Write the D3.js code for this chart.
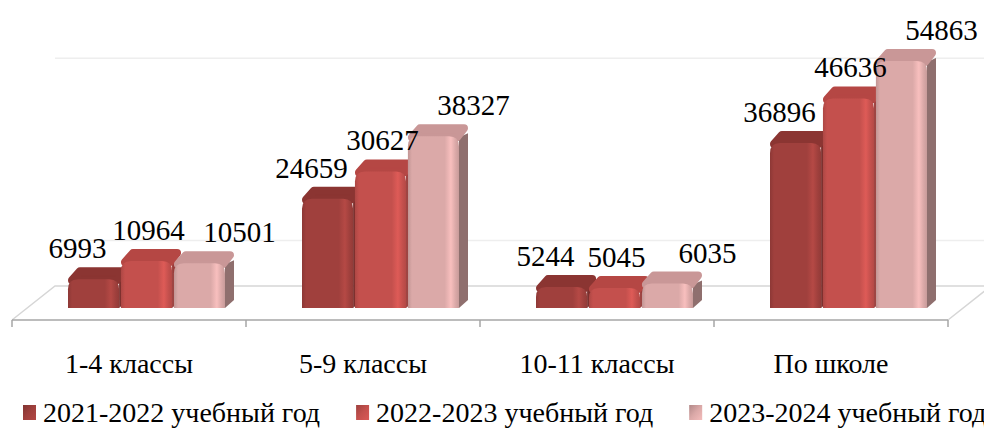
<!DOCTYPE html>
<html>
<head>
<meta charset="UTF-8">
<script src="https://d3js.org/d3.v7.min.js"></script>
<style>
    svg text {
        font-family: "Times New Roman", Tinos, "Liberation Serif", "DejaVu Serif", serif;
    }
</style>
</head>
<body style="margin:0">
<script>

    // data
    var categories = ["1-4 классы", "5-9 классы", "10-11 классы", "По школе"];
    var seriesNames = ["2021-2022 учебный год", "2022-2023 учебный год", "2023-2024 учебный год"];
    var values2122 = [6993, 24659, 5244, 36896];
    var values2223 = [10964, 30627, 5045, 46636];
    var values2324 = [10501, 38327, 6035, 54863];
    var gridValues = [10000, 50000];

    var seriesValues = [values2122, values2223, values2324];

    // colours: front, side, top
    var frontColors = ["#a0403d", "#c4504d", "#dba9a8"];
    var sideColors = ["#7b2f2d", "#9a3c3a", "#8f6f6e"];
    var topColors = ["#8b3532", "#b54744", "#c99797"];

    var fontList = "'Times New Roman', Tinos, 'Liberation Serif', 'DejaVu Serif', serif";

    var w = 984;
    var h = 428;

    // floor / perspective
    var floorFront = 320, floorBack = 286;
    var floorLeft = 12, floorRight = 948, floorShift = 43;
    var baseY = 308;
    var depthX = 9, depthY = 8;

    var svg = d3.select("body")
        .append("svg")
        .attr("width", w)
        .attr("height", h);

    var defs = svg.append("defs");

    frontColors.forEach(function (c, i) {
        var base = d3.color(c);
        var g = defs.append("linearGradient")
            .attr("id", "front" + i)
            .attr("x1", "0").attr("x2", "1").attr("y1", "0").attr("y2", "0");
        [[0, base.darker(0.35)], [0.08, base], [0.72, base],
         [0.84, base.brighter(0.35)], [0.93, base], [1, base.darker(0.25)]]
            .forEach(function (s) {
                g.append("stop").attr("offset", s[0]).attr("stop-color", s[1].formatHex());
            });
    });

    var x = d3.scaleBand()
        .domain(categories)
        .range([floorLeft, floorRight]);

    var xInner = d3.scaleBand()
        .domain(d3.range(seriesNames.length))
        .range([0, 157])
        .paddingInner(0.035);

    var y = d3.scaleLinear()
        .domain([0, 60000])
        .range([baseY, baseY - 273.4]);

    // back wall gridlines
    svg.selectAll(".grid")
        .data(gridValues)
        .enter()
        .append("line")
        .attr("class", "grid")
        .attr("x1", floorLeft + floorShift)
        .attr("x2", w)
        .attr("y1", function (d) { return y(d) - (baseY - floorBack); })
        .attr("y2", function (d) { return y(d) - (baseY - floorBack); })
        .attr("stroke", "#eeeeee")
        .attr("stroke-width", 1.5);

    // floor
    svg.append("path")
        .attr("d", "M" + floorLeft + "," + floorFront +
            " L" + (floorLeft + floorShift) + "," + floorBack +
            " L" + (floorRight + floorShift) + "," + floorBack +
            " L" + floorRight + "," + floorFront)
        .attr("fill", "none")
        .attr("stroke", "#d6d6d6")
        .attr("stroke-width", 1.5);

    svg.append("line")
        .attr("x1", floorLeft).attr("x2", floorRight)
        .attr("y1", floorFront).attr("y2", floorFront)
        .attr("stroke", "#a6a6a6")
        .attr("stroke-width", 1.5);

    var tickXs = categories.map(function (c) { return x(c); }).concat([floorRight]);
    svg.selectAll(".tick-mark")
        .data(tickXs)
        .enter()
        .append("line")
        .attr("class", "tick-mark")
        .attr("x1", function (d) { return d; })
        .attr("x2", function (d) { return d; })
        .attr("y1", floorFront)
        .attr("y2", floorFront + 7)
        .attr("stroke", "#a6a6a6")
        .attr("stroke-width", 1.5);

    // bars
    var groupOffset = x.bandwidth() / 2 + 17.5 - 78.5;
    var bars = [];
    categories.forEach(function (c, ci) {
        seriesValues.forEach(function (vals, si) {
            bars.push({ cat: c, s: si, v: vals[ci] });
        });
    });

    function barX0(d) { return x(d.cat) + groupOffset + xInner(d.s); }

    var barG = svg.selectAll(".bar")
        .data(bars)
        .enter()
        .append("g")
        .attr("class", "bar");

    // side face
    barG.append("path")
        .attr("fill", function (d) { return sideColors[d.s]; })
        .attr("d", function (d) {
            var x1 = barX0(d) + xInner.bandwidth();
            var yt = y(d.v);
            return "M" + x1 + "," + (yt + 4) +
                " L" + (x1 + depthX) + "," + (yt - depthY + 8) +
                " L" + (x1 + depthX) + "," + (baseY - depthY) +
                " L" + x1 + "," + baseY + " Z";
        });

    // top face (rounded)
    barG.append("path")
        .attr("fill", function (d) { return topColors[d.s]; })
        .attr("stroke", function (d) { return topColors[d.s]; })
        .attr("stroke-width", 8)
        .attr("stroke-linejoin", "round")
        .attr("d", function (d) {
            var x0 = barX0(d), x1 = x0 + xInner.bandwidth();
            var yt = y(d.v);
            return "M" + (x0 + 4) + "," + (yt + 4) +
                " L" + (x0 + depthX + 3) + "," + (yt - depthY + 3) +
                " L" + (x1 + depthX - 4) + "," + (yt - depthY + 3) +
                " L" + (x1 - 2) + "," + (yt + 4) + " Z";
        });

    // front face
    barG.append("path")
        .attr("fill", function (d) { return "url(#front" + d.s + ")"; })
        .attr("d", function (d) {
            var x0 = barX0(d), x1 = x0 + xInner.bandwidth();
            var yt = y(d.v) + 3, r = 10;
            return "M" + x0 + "," + baseY +
                " L" + x0 + "," + (yt + r) +
                " Q" + x0 + "," + yt + " " + (x0 + r) + "," + yt +
                " L" + (x1 - r) + "," + yt +
                " Q" + x1 + "," + yt + " " + x1 + "," + (yt + r) +
                " L" + x1 + "," + baseY + " Z";
        });

    // value labels
    var labelDx = [-16, 2, 40];
    svg.selectAll(".value")
        .data(bars)
        .enter()
        .append("text")
        .attr("class", "value")
        .attr("text-anchor", "middle")
        .attr("font-size", 29)
        .style("font-family", fontList)
        .attr("x", function (d) { return barX0(d) + xInner.bandwidth() / 2 + labelDx[d.s]; })
        .attr("y", function (d) { return y(d.v) - 18; })
        .text(function (d) { return d.v; });

    // category labels
    svg.selectAll(".cat")
        .data(categories)
        .enter()
        .append("text")
        .attr("class", "cat")
        .attr("text-anchor", "middle")
        .attr("font-size", 28)
        .style("font-family", fontList)
        .attr("x", function (d) { return x(d) + x.bandwidth() / 2; })
        .attr("y", 373)
        .text(function (d) { return d; });

    // legend
    var legend = svg.append("g");
    var lx = 23;
    seriesNames.forEach(function (name, i) {
        var base = d3.color(frontColors[i]);
        var lg = defs.append("linearGradient")
            .attr("id", "leg" + i)
            .attr("x1", "0").attr("x2", "1").attr("y1", "0").attr("y2", "1");
        lg.append("stop").attr("offset", 0).attr("stop-color", base.darker(0.6).formatHex());
        lg.append("stop").attr("offset", 0.5).attr("stop-color", base.formatHex());
        lg.append("stop").attr("offset", 1).attr("stop-color", base.brighter(0.3).formatHex());

        legend.append("rect")
            .attr("x", lx)
            .attr("y", 405)
            .attr("width", 13)
            .attr("height", 15)
            .attr("fill", "url(#leg" + i + ")");
        var t = legend.append("text")
            .attr("x", lx + 20)
            .attr("y", 422)
            .attr("font-size", 28)
            .style("font-family", fontList)
            .text(name);
        lx = lx + 20 + t.node().getComputedTextLength() + 36;
    });

</script>
</body>
</html>
